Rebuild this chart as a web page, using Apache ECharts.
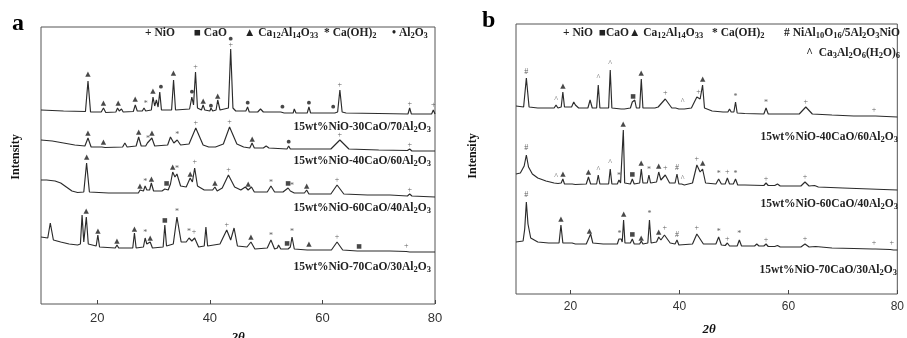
<!DOCTYPE html>
<html><head><meta charset="utf-8">
<script src="https://cdn.jsdelivr.net/npm/echarts@6/dist/echarts.min.js"></script>
<style>html,body{margin:0;padding:0;background:#fff}#c{width:907px;height:338px}</style>
</head><body><div id="c"></div>
<script>
// ---------- data ----------
const xTicks = [20, 40, 60, 80];
const namesA = ['15wt%NiO-30CaO/70Al_2O_3', '15wt%NiO-40CaO/60Al_2O_3', '15wt%NiO-60CaO/40Al_2O_3', '15wt%NiO-70CaO/30Al_2O_3'];
const namesB = ['15wt%NiO-40CaO/60Al_2O_3', '15wt%NiO-60CaO/40Al_2O_3', '15wt%NiO-70CaO/30Al_2O_3'];
const legendA = ['+ NiO', '■ CaO', '▲ Ca_12Al_14O_33', '* Ca(OH)_2', '• Al_2O_3'];
const legendB = ['+ NiO', '■CaO', '▲ Ca_12Al_14O_33', '* Ca(OH)_2', '# NiAl_10O_16/5Al_2O_3NiO', '^  Ca_3Al_2O_6(H_2O)_6'];

// panel a patterns: [2theta, intensity (a.u., offset stacked)]
const a1 = [[10,194],[14,193],[17.9,192.5],[18.35,223],[18.8,192],[20.7,192],[21.1,196],[21.5,191.5],[23.3,192],[23.6,196],[23.9,193],[24.3,195],[24.6,192],[26.4,192.5],[26.75,199],[27.1,193],[28.0,193],[28.3,196],[28.6,193],[29.6,194],[29.9,207],[30.2,198],[30.5,204],[30.8,197],[31.1,212],[31.4,194],[33.2,194],[33.55,224],[33.9,194],[36.4,195],[36.8,207],[37.1,199],[37.45,232],[37.8,196],[38.5,194],[38.8,199],[39.1,194],[40.0,193],[40.2,196],[40.5,193],[41.1,194],[41.4,204],[41.8,194],[43.3,196],[43.7,255],[44.1,196],[44.6,193],[46.4,193],[46.7,197],[47.0,192],[48.5,192],[49,195],[49.5,192],[52.6,192],[52.9,194],[53.2,191],[54.8,191],[55,195],[55.3,191],[57.3,191],[57.6,197],[57.9,191],[61.6,191],[61.9,193],[62.2,191],[62.7,192],[63.1,214],[63.5,192],[64.2,191],[70,190.5],[75.2,190],[75.5,196],[75.8,190],[79.4,190],[79.7,194],[80,190]];
const a2 = [[10,164],[12,163],[14,161],[16,159],[17.8,158],[18.35,166],[18.9,157],[20.8,157],[21.1,159],[21.4,156.5],[24.5,157],[24.9,161],[25.3,157],[26.9,158],[27.35,167],[27.8,158],[28.6,158],[28.9,161],[29.2,159],[29.7,166],[30.2,158],[32.5,159],[33,167],[33.6,161],[34.2,164],[34.8,159],[36.3,160],[37.5,176],[38.8,159],[39.8,157],[41,157],[42.4,160],[43.5,177],[44.8,160],[46,157],[47.1,156],[47.5,161],[47.9,156],[49.5,156],[50,158],[50.5,156],[53.7,155],[54,158],[54.3,155],[58,155],[61.5,155],[63.1,164],[64.7,155],[70,154],[75.1,153.5],[75.5,155],[75.9,153],[80,153]];
const a3 = [[10,124],[11,124],[12.5,123],[13.5,121],[14.5,117],[15.5,113],[16.5,111.5],[17.6,112],[18.1,141],[18.6,112],[22,111],[26,111],[27.3,111],[27.6,114],[27.9,112],[28.2,113],[28.5,118],[28.8,114],[29.3,114],[29.6,121],[30,113],[31.5,113],[32,115],[32.3,117],[32.6,114],[33,120],[33.4,132],[33.8,127],[34.15,130],[34.8,118],[35.8,117],[36.5,126],[36.9,122],[37.3,136],[37.8,118],[39,114],[40.5,114],[40.9,117],[41.3,113],[42.2,116],[43.3,129],[44.4,117],[45.5,114],[46.3,117],[46.8,114],[47.4,117],[47.9,112],[50.2,112],[50.85,118],[51.5,112],[53,112],[53.9,116],[54.3,113],[54.6,114],[55,111],[56.8,111],[57.2,114],[57.6,110],[61.5,110],[62.6,119],[63.8,110],[68,109],[72,109],[75.1,108],[75.5,110],[75.9,108],[80,107]];
const a4 = [[10,67],[11.2,66],[11.65,81],[12.2,64],[13.5,62],[15,60],[16.5,59],[17.0,60],[17.3,89],[17.6,62],[17.75,62],[18.05,87],[18.4,60],[19.8,58],[20.1,69],[20.4,57],[23.2,56],[23.5,59],[23.8,56],[26.3,56],[26.6,71],[26.9,56],[28.2,57],[28.5,66],[28.8,60],[29.4,62],[29.8,56],[31.7,57],[32,79],[32.3,58],[33.5,60],[34.15,87],[34.9,62],[35.8,62],[36.3,66],[36.8,63],[37.3,66],[38,57],[39.0,58],[39.3,77],[39.6,58],[41.8,60],[43,74],[43.7,64],[44.3,76],[44.9,58],[46.6,57],[47.3,62],[48,55],[50.2,56],[50.85,64],[51.5,55],[52,56],[52.2,59],[52.6,55],[53.3,55],[53.5,57],[53.9,55],[54.3,57],[54.6,67],[55,55],[57.3,54],[57.6,56],[57.9,54],[61.6,54],[62.6,62],[63.6,54],[66.2,53],[66.5,55],[66.8,53],[72,53],[74.9,52.5],[75.2,54],[75.5,52],[80,52]];

// panel b patterns
const b1 = [[10,188],[11.4,187],[11.9,216],[12.4,187],[14,186],[17,186],[17.35,189],[17.7,186],[18.3,187],[18.6,202],[18.9,187],[20.2,187],[20.6,192],[20.9,189],[21.2,191],[21.5,186],[23.2,186],[23.6,194],[24,186],[24.8,186],[25.1,209],[25.4,186],[27,186],[27.3,224],[27.6,186],[29.3,185],[29.6,187],[29.9,185],[31,186],[31.35,192],[31.6,190],[31.8,194],[32.1,186],[32.7,186],[33,215],[33.3,186],[35.5,186],[35.8,188],[36.1,187],[37.4,195],[38.6,186],[39.3,186],[39.6,188],[39.9,185],[40.4,185],[40.6,187],[40.9,185],[42.2,186],[43.2,197],[43.8,195],[44.25,209],[44.6,186],[46,183],[48,182],[48.9,182],[49.2,185],[49.5,182],[50,182],[50.3,192],[50.6,181],[52,180.5],[55.5,180],[55.9,186],[56.3,180],[58,180],[62,180],[63.2,187],[64.4,180],[68,179],[72,178],[75.4,178],[75.7,180],[76,178],[80,177]];
const b2 = [[10,120],[10.8,121],[11.5,128],[11.9,139],[12.3,127],[13,120],[14,116],[15.5,113],[17,111],[17.35,112.5],[17.7,110.5],[18.3,111],[18.6,115],[18.9,110],[20.3,110],[20.6,112],[20.9,109.5],[22.9,110],[23.3,117],[23.7,110],[24.8,110],[25.1,119],[25.4,110],[27,110],[27.3,125],[27.6,110],[28.6,110],[28.9,114],[29.2,111],[29.45,112],[29.7,164],[29.95,111],[31,110],[31.35,115],[31.7,110],[32.7,111],[33,125],[33.3,111],[34.1,111],[34.4,119],[34.7,111],[35.8,112],[36.2,122],[36.6,114],[37.4,119],[38.2,111],[39.2,111],[39.55,120],[39.9,110],[40.4,110],[40.6,111],[40.9,109],[42.4,111],[43.2,129],[43.8,122],[44.25,125],[44.8,111],[46.7,110],[47.2,115],[47.7,110],[48.4,110],[48.8,116],[49.2,110],[49.9,110],[50.3,115],[50.7,109],[52,109],[55.5,108.5],[55.9,111],[56.3,108.5],[57.5,108.5],[58,110],[58.5,108],[62.3,108],[63.05,112],[63.8,108],[64.8,108.5],[65.5,107],[70,106],[75,105],[80,104]];
const b3 = [[10,52],[11.3,53],[11.6,65],[11.9,92],[12.2,70],[12.7,56],[14,52],[16,51],[17.9,51],[18.25,69],[18.6,51],[20.3,51],[20.6,52],[20.9,50],[22.9,50],[23.3,55],[23.5,53],[23.7,60],[24.1,51],[26,50],[28.6,50],[28.9,55],[29.1,53],[29.3,55],[29.5,52],[29.75,74],[30,51],[31,51],[31.35,55],[31.7,50],[32.7,50],[33,53],[33.3,50],[34.2,51],[34.5,74],[34.8,51],[35.8,52],[36.2,57],[36.6,54],[37.25,59],[38.3,51],[39.2,50],[39.55,54],[39.9,49],[42.4,50],[43.2,60],[44.4,50],[46.7,50],[47.2,57],[47.7,49],[48.4,48.5],[48.8,51],[49.2,48],[50.6,48],[51,54],[51.4,48],[53.8,48],[54.2,50],[54.6,48],[55.5,48],[55.9,50],[56.3,47.5],[57.5,47.5],[58,48.5],[58.5,47],[62.3,47],[63.05,50],[63.8,47],[65,47.5],[68,46],[72,45.5],[75.4,45],[75.7,46],[76,45],[78.7,44.5],[79,46],[79.3,44],[80,44]];

// phase markers: [2theta, intensity, glyph]
const marksA = [
 [18.35,230,'▲'],[21.1,201,'▲'],[23.7,201,'▲'],[26.75,205,'▲'],[28.6,200,'*'],[29.9,213,'▲'],[31.3,217,'●'],[33.55,231,'▲'],[36.8,212,'●'],[37.45,237,'+'],[38.8,203,'▲'],[40.2,198,'●'],[41.4,208,'▲'],[43.7,259,'+'],[43.7,265,'●'],
 [46.7,201,'●'],[52.9,197,'●'],[57.6,201,'●'],[61.9,197,'●'],[63.1,219,'+'],[75.5,200,'+'],[79.7,199,'+'],
 [18.35,171,'▲'],[21.1,162,'▲'],[27.35,172,'▲'],[29.0,165,'*'],[29.7,171,'▲'],[34.2,169,'*'],[37.5,181,'+'],[43.5,182,'+'],[47.5,165,'▲'],[54,162,'●'],[63.1,169,'+'],[75.5,159,'+'],
 [18.1,147,'▲'],[27.6,118,'▲'],[28.5,122,'*'],[29.6,125,'▲'],[32.3,121,'■'],[33.4,137,'▲'],[34.15,135,'*'],[36.5,130,'▲'],[37.3,142,'+'],[40.9,121,'▲'],[43.3,134,'+'],[46.8,120,'▲'],[50.85,121,'*'],[53.9,121,'■'],[54.6,118,'*'],[57.2,118,'▲'],[62.6,124,'+'],[75.5,114,'+'],
 [18.05,93,'▲'],[20.1,73,'▲'],[23.5,63,'▲'],[26.6,75,'▲'],[28.5,71,'*'],[29.4,66,'▲'],[32,84,'■'],[34.15,92,'*'],[36.3,72,'*'],[37.2,72,'+'],[43,79,'+'],[47.3,67,'▲'],[50.85,68,'*'],[53.7,61,'■'],[54.6,72,'*'],[57.6,60,'▲'],[62.6,67,'+'],[66.5,58,'■'],[74.9,58,'+']
];
const marksB = [
 [11.9,222,'#'],[17.35,194,'^'],[18.6,208,'▲'],[25.1,216,'^'],[27.3,230,'^'],[31.5,198,'■'],[33,221,'▲'],[37.4,201,'+'],[40.6,192,'^'],[43.5,202,'+'],[44.25,215,'▲'],[50.3,197,'*'],[55.9,191,'*'],[63.2,192,'+'],[75.7,184,'+'],
 [11.9,146,'#'],[17.35,117,'^'],[18.6,120,'▲'],[23.3,122,'▲'],[25.1,124,'^'],[27.3,131,'^'],[28.9,118,'*'],[29.7,170,'▲'],[31.35,120,'■'],[33,131,'▲'],[34.4,124,'*'],[36.2,128,'▲'],[37.4,126,'+'],[39.55,126,'#'],[40.6,115,'^'],[43.2,135,'+'],[44.25,131,'▲'],[47.2,120,'*'],[48.8,122,'+'],[50.3,120,'*'],[55.9,115,'+'],[63.05,117,'+'],
 [11.9,99,'#'],[18.25,75,'▲'],[23.5,63,'▲'],[29.0,60,'*'],[29.75,80,'▲'],[31.35,60,'■'],[33,56,'▲'],[34.5,80,'*'],[36.2,62,'▲'],[37.3,66,'+'],[39.55,59,'#'],[43.2,66,'+'],[47.2,62,'*'],[48.8,55,'+'],[51,60,'*'],[55.9,54,'+'],[63.05,55,'+'],[75.7,51,'+'],[79,51,'+']
];

// ---------- helpers ----------
function rt(s) {
  const parts = s.split(/_(\d+)/);
  let out = '';
  parts.forEach((p, i) => { if (p !== '') out += (i % 2 ? '{s|' + p + '}' : '{n|' + p + '}'); });
  return out;
}
const SERIF = '"Liberation Serif", "Times New Roman", serif';
const richLab = {
  n: {fontFamily: SERIF, fontWeight: 'bold', fontSize: 11.5, lineHeight: 14, fill: '#222', verticalAlign: 'middle'},
  s: {fontFamily: SERIF, fontWeight: 'bold', fontSize: 8.5, lineHeight: 8, fill: '#222', verticalAlign: 'bottom'}
};
function txt(x, y, s, align) {
  return {type: 'text', x: x, y: y, silent: true,
    style: {text: rt(s), rich: richLab, align: align || 'left', verticalAlign: 'middle'}};
}

const lineStyle = {color: '#2b2b2b', width: 1.15};
function lineSeries(d, ax) {
  return {type: 'line', data: d, xAxisIndex: ax, yAxisIndex: ax, symbol: 'none', smooth: false,
    lineStyle: lineStyle, silent: true};
}
const glyphStyle = {'▲': 'g', '■': 'q', '●': 'd', '+': 't', '*': 't', '#': 't', '^': 't'};
function markSeries(d, ax) {
  return {type: 'scatter', data: d, xAxisIndex: ax, yAxisIndex: ax, symbolSize: 1,
    itemStyle: {color: 'rgba(0,0,0,0)'}, silent: true,
    label: {show: true, position: 'inside', color: '#1a1a1a',
      formatter: p => '{' + glyphStyle[p.data[2]] + '|' + p.data[2] + '}',
      rich: {
        g: {fontFamily: 'DejaVu Sans', fontSize: 7, color: '#1a1a1a'},
        q: {fontFamily: 'DejaVu Sans', fontSize: 6, color: '#1a1a1a'},
        d: {fontFamily: 'DejaVu Sans', fontSize: 5, color: '#1a1a1a'},
        t: {fontFamily: SERIF, fontSize: 8, color: '#333'}
      }}};
}
function xAx(gi) {
  return {type: 'value', gridIndex: gi, min: 10, max: 80,
    axisLine: {show: false}, splitLine: {show: false},
    axisTick: {show: true, inside: true, length: 4, customValues: xTicks, lineStyle: {color: '#444'}},
    axisLabel: {show: true, customValues: xTicks, margin: gi ? 7 : 8, fontFamily: '"Liberation Sans", Arial, sans-serif',
      fontSize: gi ? 12 : 13, color: '#333'}};
}
function yAx(gi, max) {
  return {type: 'value', gridIndex: gi, min: 0, max: max, show: false};
}

const graphics = [
  {type: 'text', x: 12, y: 12, style: {text: 'a', font: 'bold 24px ' + SERIF, fill: '#000'}},
  {type: 'text', x: 482, y: 9, style: {text: 'b', font: 'bold 24px ' + SERIF, fill: '#000'}},
  {type: 'text', x: 16, y: 157, rotation: Math.PI / 2, style: {text: 'Intensity', font: 'bold 12px ' + SERIF, fill: '#111', align: 'center', verticalAlign: 'middle'}},
  {type: 'text', x: 473, y: 156, rotation: Math.PI / 2, style: {text: 'Intensity', font: 'bold 12px ' + SERIF, fill: '#111', align: 'center', verticalAlign: 'middle'}},
  {type: 'text', x: 238, y: 338, style: {text: '2θ', font: 'italic bold 13px ' + SERIF, fill: '#111', align: 'center', verticalAlign: 'middle'}},
  {type: 'text', x: 709, y: 330, style: {text: '2θ', font: 'italic bold 13px ' + SERIF, fill: '#111', align: 'center', verticalAlign: 'middle'}},
  // panel a legend
  txt(145, 33, legendA[0]), txt(194, 33, legendA[1]), txt(244, 33, legendA[2]), txt(324, 33, legendA[3]), txt(392, 33, legendA[4]),
  // panel b legend
  txt(563, 33, legendB[0]), txt(599, 33, legendB[1]), txt(629, 33, legendB[2]), txt(712, 33, legendB[3]), txt(900, 33, legendB[4], 'right'),
  txt(900, 53, legendB[5], 'right'),
  // sample labels
  txt(431, 127, namesA[0], 'right'), txt(431, 161, namesA[1], 'right'), txt(431, 208, namesA[2], 'right'), txt(431, 267, namesA[3], 'right'),
  txt(898, 137, namesB[0], 'right'), txt(898, 204, namesB[1], 'right'), txt(897, 270, namesB[2], 'right')
];

const chart = echarts.init(document.getElementById('c'), null, {renderer: 'canvas'});
chart.setOption({
  animation: false,
  backgroundColor: '#fff',
  grid: [
    {left: 41, top: 27, width: 394, height: 277, show: true, borderColor: '#555', borderWidth: 1, backgroundColor: 'transparent'},
    {left: 516, top: 24, width: 385, height: 270, show: true, borderColor: '#555', borderWidth: 1, backgroundColor: 'transparent'}
  ],
  xAxis: [xAx(0), xAx(1)],
  yAxis: [yAx(0, 277), yAx(1, 270)],
  series: [
    lineSeries(a1, 0), lineSeries(a2, 0), lineSeries(a3, 0), lineSeries(a4, 0),
    lineSeries(b1, 1), lineSeries(b2, 1), lineSeries(b3, 1),
    markSeries(marksA, 0), markSeries(marksB, 1)
  ],
  graphic: graphics
});
</script></body></html>
